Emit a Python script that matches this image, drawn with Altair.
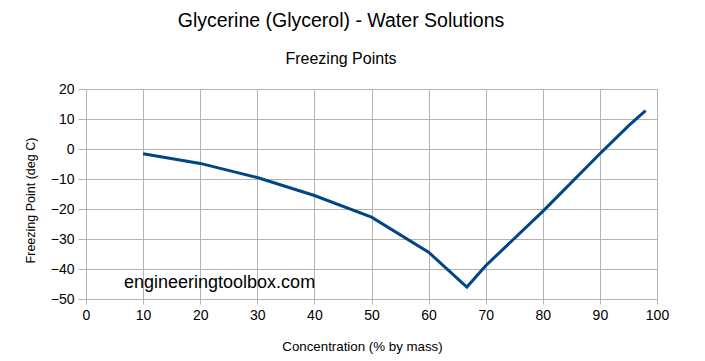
import altair as alt
import pandas as pd

concentration = [10, 20, 30, 40, 50, 60, 66.7, 70, 80, 90, 95, 98]
freezing_point = [-1.6, -4.8, -9.5, -15.5, -22.7, -34.4, -46.0, -38.9, -20.8, -1.6, 7.7, 12.8]

x_ticks = list(range(0, 101, 10))
y_ticks = list(range(-50, 21, 10))

title_text = ["Glycerine (Glycerol) - Water Solutions"]
subtitle_text = ["Freezing Points"]
watermark_text = ["engineeringtoolbox.com"]

df = pd.DataFrame({"c": concentration, "t": freezing_point})

FONT = "Liberation Sans"
GRID = "#b3b3b3"

axis_common = dict(
    gridColor=GRID, domainColor=GRID, tickColor=GRID,
    labelFont=FONT, labelFontSize=14, labelColor="#000000",
    titleFont=FONT, titleColor="#000000", titleFontWeight="normal",
)

line = alt.Chart(df).mark_line(color="#004586", strokeWidth=3).encode(
    x=alt.X("c:Q", scale=alt.Scale(domain=[0, 100], nice=False),
            axis=alt.Axis(values=x_ticks, title="Concentration (% by mass)",
                          titleFontSize=13.3, labelFlush=False, tickSize=5,
                          titleX=276, titleY=51, titleBaseline="alphabetic",
                          labelPadding=4, **axis_common)),
    y=alt.Y("t:Q", scale=alt.Scale(domain=[-50, 20], nice=False),
            axis=alt.Axis(values=y_ticks, title="Freezing Point (deg C)",
                          titleFontSize=12.5, tickSize=8,
                          titleX=-56, titleY=111, titleBaseline="middle", titleAlign="center",
                          labelPadding=4, **axis_common)),
)

title = alt.Chart(pd.DataFrame({"label": title_text})).mark_text(
    font=FONT, fontSize=19.5, align="center", baseline="alphabetic", color="#000000"
).encode(x=alt.value(255), y=alt.value(-62), text="label:N")

subtitle = alt.Chart(pd.DataFrame({"label": subtitle_text})).mark_text(
    font=FONT, fontSize=16, align="center", baseline="alphabetic", color="#000000"
).encode(x=alt.value(255), y=alt.value(-25), text="label:N")

watermark = alt.Chart(pd.DataFrame({"label": watermark_text})).mark_text(
    font=FONT, fontSize=18, align="left", baseline="middle", color="#000000"
).encode(x=alt.value(38), y=alt.value(194), text="label:N")

chart = alt.layer(line, watermark, title, subtitle).properties(
    width=571, height=210,
    padding={"left": 78, "top": 81, "right": 40, "bottom": 62},
    autosize=alt.AutoSizeParams(type="none"),
).configure_view(stroke=None)

chart.save("out.html", embed_options={"renderer": "svg", "actions": False})
